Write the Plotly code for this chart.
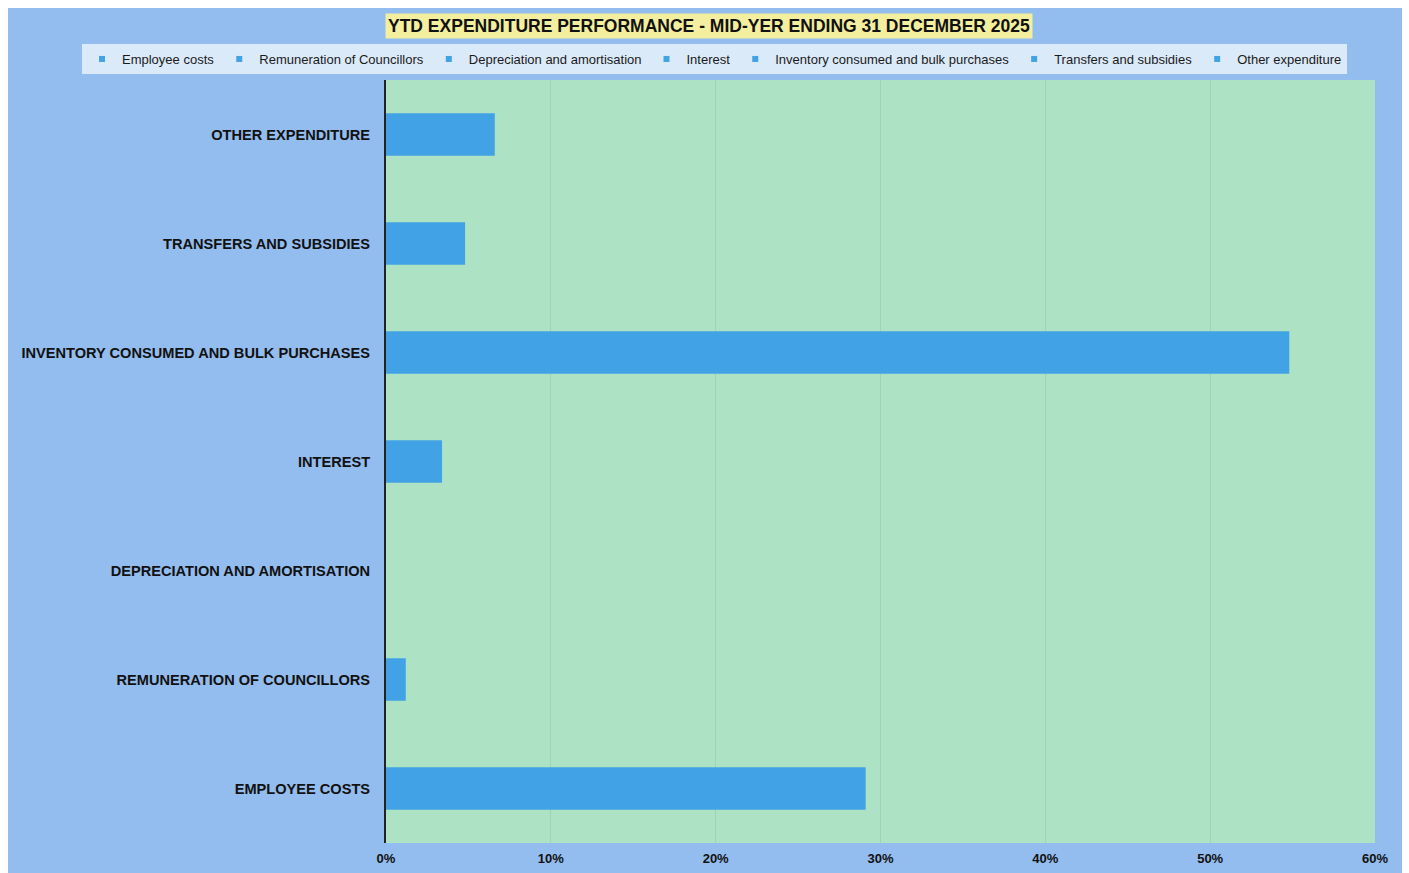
import plotly.graph_objects as go

categories = ["EMPLOYEE COSTS", "REMUNERATION OF COUNCILLORS", "DEPRECIATION AND AMORTISATION",
              "INTEREST", "INVENTORY CONSUMED AND BULK PURCHASES", "TRANSFERS AND SUBSIDIES",
              "OTHER EXPENDITURE"]
legend_names = ["Employee costs", "Remuneration of Councillors", "Depreciation and amortisation",
                "Interest", "Inventory consumed and bulk purchases", "Transfers and subsidies",
                "Other expenditure"]
values = [0.291, 0.012, 0.0, 0.034, 0.548, 0.048, 0.066]
x_ticks = [0, 0.1, 0.2, 0.3, 0.4, 0.5, 0.6]

BAR = "#42a2e6"
FONT = "Liberation Sans, Arial, sans-serif"

W, H = 1409, 873
L, R, T, B = 386, 34, 80, 30
pw, ph = W - L - R, H - T - B


def px_x(p):
    return (p - L) / pw


def px_y(p):
    return (H - B - p) / ph


fig = go.Figure()
for cat, name, v in zip(categories, legend_names, values):
    fig.add_trace(go.Bar(y=[cat], x=[v], name=name, orientation="h", showlegend=False,
                         marker=dict(color=BAR, line=dict(width=0)), width=0.39))
for name in legend_names:
    fig.add_trace(go.Scatter(x=[None], y=[None], mode="markers", name=name,
                             marker=dict(symbol="square", size=6, color=BAR)))

fig.update_layout(
    width=W, height=H,
    margin=dict(l=L, r=R, t=T, b=B, autoexpand=False),
    paper_bgcolor="white",
    plot_bgcolor="rgba(0,0,0,0)",
    barmode="overlay",
    font=dict(family=FONT, color="#111"),
    shapes=[
        dict(type="rect", xref="paper", yref="paper", layer="below",
             x0=px_x(8), x1=px_x(1402), y0=px_y(873), y1=px_y(8),
             fillcolor="#93bdee", line=dict(width=0)),
        dict(type="rect", xref="paper", yref="paper", layer="below",
             x0=0, x1=1, y0=0, y1=1, fillcolor="#aee2c5", line=dict(width=0)),
    ],
    annotations=[
        dict(text="<b>YTD EXPENDITURE PERFORMANCE - MID-YER ENDING 31 DECEMBER 2025</b>",
             xref="paper", yref="paper", x=px_x(709), y=px_y(26),
             xanchor="center", yanchor="middle", showarrow=False,
             font=dict(size=17.5, color="#111", family=FONT),
             bgcolor="#f4ef9e", borderpad=2),
    ],
    legend=dict(orientation="h", xref="paper", yref="paper",
                x=px_x(82), y=px_y(44), xanchor="left", yanchor="top",
                bgcolor="rgba(228,240,251,0.88)", font=dict(size=13, color="#1a1a1a"),
                itemwidth=30, traceorder="normal", tracegroupgap=0),
    xaxis=dict(range=[0, 0.6], tickvals=x_ticks, tickformat=".0%",
               showgrid=True, gridcolor="rgba(110,170,135,0.25)", gridwidth=1,
               zeroline=False, showline=False, ticks="", ticklabelstandoff=6,
               tickfont=dict(size=13, color="#111", family=FONT, weight="bold")),
    yaxis=dict(type="category", categoryorder="array", categoryarray=categories,
               showline=True, linecolor="#222", linewidth=2, ticks="",
               ticklabelstandoff=11, showgrid=False,
               tickfont=dict(size=14.6, color="#111", family=FONT, weight="bold")),
)

fig.write_html("out.html")
